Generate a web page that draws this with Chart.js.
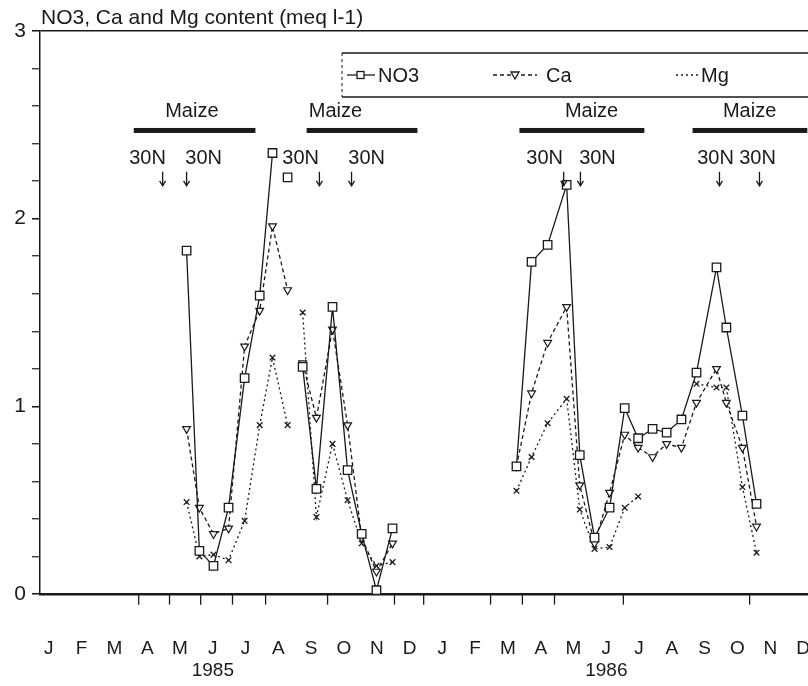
<!DOCTYPE html>
<html>
<head>
<meta charset="utf-8">
<script src="https://cdn.jsdelivr.net/npm/chart.js@4.4.0/dist/chart.umd.min.js"></script>
<style>
  html, body { margin: 0; padding: 0; background: #fff; }
  #wrap { width: 808px; height: 686px; }
</style>
</head>
<body>
<div id="wrap"><canvas id="chart" width="808" height="686"></canvas></div>
<script>
// month axis: 0 = Jan 1985 ... 23 = Dec 1986
const monthLabels = ['J','F','M','A','M','J','J','A','S','O','N','D','J','F','M','A','M','J','J','A','S','O','N','D'];
const yearTickIndex = [5, 17];
const years = ['1985', '1986'];

// sampling dates (fractional month index)
const sampleMonths = [4.20, 4.59, 5.02, 5.48, 5.97, 6.43, 6.82, 7.28, 7.74, 8.16, 8.65, 9.11, 9.54, 9.99, 10.48,
                      14.26, 14.72, 15.21, 15.79, 16.19, 16.64, 17.10, 17.56, 17.97, 18.41, 18.84, 19.29, 19.75, 20.36, 20.66, 21.15, 21.58];
const no3 = [1.83, 0.23, 0.15, 0.46, 1.15, 1.59, 2.35, 2.22, 1.21, 0.56, 1.53, 0.66, 0.32, 0.02, 0.35,
             0.68, 1.77, 1.86, 2.18, 0.74, 0.30, 0.46, 0.99, 0.83, 0.88, 0.86, 0.93, 1.18, 1.74, 1.42, 0.95, 0.48];
const ca  = [0.88, 0.46, 0.32, 0.35, 1.32, 1.51, 1.96, 1.62, 1.23, 0.94, 1.41, 0.90, 0.30, 0.12, 0.27,
             0.68, 1.07, 1.34, 1.53, 0.58, 0.27, 0.54, 0.85, 0.78, 0.73, 0.80, 0.78, 1.02, 1.20, 1.02, 0.78, 0.36];
const mg  = [0.49, 0.20, 0.21, 0.18, 0.39, 0.90, 1.26, 0.90, 1.50, 0.41, 0.80, 0.50, 0.27, 0.15, 0.17,
             0.55, 0.73, 0.91, 1.04, 0.45, 0.24, 0.25, 0.46, 0.52, null, null, null, 1.12, 1.10, 1.10, 0.57, 0.22];
// segments (from sample i to i+1) not drawn in the original
const no3Breaks = [6, 7];
const caBreaks = [7];
const mgBreaks = [7];

// crop and fertiliser annotations
const maizePeriods = [[2.59, 6.30], [7.86, 11.24], [14.35, 18.16], [19.63, 23.13]];
const maizeLabelMonths = [4.36, 8.74, 16.55, 21.37];
const fertMonths = [3.47, 4.20, 8.25, 9.23, 15.70, 16.21, 20.45, 21.67];
const fertLabelMonths = [3.01, 4.72, 7.68, 9.69, 15.12, 16.73, 20.33, 21.61];
const eventMonths = [2.74, 3.68, 4.63, 5.60, 6.61, 8.50, 10.54, 11.43, 13.47, 14.44, 15.42, 17.52, 21.37];

const INK = '#1a1a1a';
const FONT = '"Liberation Sans", Arial, sans-serif';

function points(values) {
    return sampleMonths.map((m, i) => ({ x: m, y: values[i] }));
}

function segColor(breaks) {
    return ctx => {
        const gap = sampleMonths[ctx.p1DataIndex] - sampleMonths[ctx.p0DataIndex];
        if (gap > 2 || breaks.includes(ctx.p0DataIndex)) return 'rgba(0,0,0,0)';
        return INK;
    };
}

// title, crop bars, fertiliser arrows and the boxed legend
const overlay = {
    id: 'overlay',
    afterDatasetsDraw(chart) {
        const { ctx, scales: { x, y } } = chart;
        ctx.save();
        ctx.fillStyle = INK;
        ctx.strokeStyle = INK;

        ctx.font = '21px ' + FONT;
        ctx.textAlign = 'left';
        ctx.textBaseline = 'alphabetic';
        ctx.fillText('NO3, Ca and Mg content (meq l-1)', 41, 24);

        ctx.font = '20px ' + FONT;
        ctx.textAlign = 'center';
        ctx.textBaseline = 'middle';
        const barY = y.getPixelForValue(2.47);
        maizePeriods.forEach(([a, b], i) => {
            const x0 = x.getPixelForValue(a);
            const x1 = Math.min(x.getPixelForValue(b), chart.width);
            ctx.fillRect(x0, barY - 2.5, x1 - x0, 5);
            ctx.fillText('Maize', x.getPixelForValue(maizeLabelMonths[i]), y.getPixelForValue(2.57));
        });

        const labY = y.getPixelForValue(2.32);
        fertLabelMonths.forEach(m => ctx.fillText('30N', x.getPixelForValue(m), labY));

        const a0 = y.getPixelForValue(2.25), a1 = y.getPixelForValue(2.175);
        ctx.lineWidth = 1.3;
        fertMonths.forEach(m => {
            const px = x.getPixelForValue(m);
            ctx.beginPath();
            ctx.moveTo(px, a0);
            ctx.lineTo(px, a1);
            ctx.stroke();
            ctx.beginPath();
            ctx.moveTo(px - 3, a1 - 5);
            ctx.lineTo(px, a1);
            ctx.lineTo(px + 3, a1 - 5);
            ctx.stroke();
        });

        // legend box
        const top = 53, bot = 97, left = 342, right = chart.width;
        ctx.lineWidth = 1.5;
        ctx.beginPath();
        ctx.moveTo(left, top); ctx.lineTo(right, top);
        ctx.moveTo(left, bot); ctx.lineTo(right, bot);
        ctx.stroke();
        ctx.setLineDash([3, 3]);
        ctx.lineWidth = 1;
        ctx.beginPath();
        ctx.moveTo(left, top); ctx.lineTo(left, bot);
        ctx.stroke();

        const ly = 75;
        ctx.lineWidth = 1.3;
        ctx.setLineDash([]);
        ctx.beginPath(); ctx.moveTo(347, ly); ctx.lineTo(375, ly); ctx.stroke();
        ctx.fillStyle = '#fff';
        ctx.fillRect(357, ly - 3.5, 7, 7);
        ctx.strokeRect(357, ly - 3.5, 7, 7);
        ctx.setLineDash([4, 3]);
        ctx.beginPath(); ctx.moveTo(493, ly); ctx.lineTo(537, ly); ctx.stroke();
        ctx.setLineDash([]);
        ctx.beginPath();
        ctx.moveTo(511, ly - 3); ctx.lineTo(519, ly - 3); ctx.lineTo(515, ly + 4); ctx.closePath();
        ctx.fill(); ctx.stroke();
        ctx.setLineDash([2, 3]);
        ctx.beginPath(); ctx.moveTo(676, ly); ctx.lineTo(698, ly); ctx.stroke();
        ctx.setLineDash([]);

        ctx.fillStyle = INK;
        ctx.textAlign = 'left';
        ctx.font = '20px ' + FONT;
        ctx.fillText('NO3', 378, ly + 1);
        ctx.fillText('Ca', 546, ly + 1);
        ctx.fillText('Mg', 701, ly + 1);
        ctx.restore();
    }
};

new Chart(document.getElementById('chart').getContext('2d'), {
    type: 'line',
    data: {
        datasets: [{
            label: 'NO3',
            data: points(no3),
            borderColor: INK,
            borderWidth: 1.3,
            pointStyle: 'rect',
            pointRadius: 6,
            pointBorderWidth: 1.3,
            pointBackgroundColor: '#fff',
            pointBorderColor: INK,
            segment: { borderColor: segColor(no3Breaks) }
        }, {
            label: 'Ca',
            data: points(ca),
            borderColor: INK,
            borderWidth: 1.3,
            borderDash: [4, 3],
            pointStyle: 'triangle',
            pointRotation: 180,
            pointRadius: 4.5,
            pointBorderWidth: 1.2,
            pointBackgroundColor: '#fff',
            pointBorderColor: INK,
            segment: { borderColor: segColor(caBreaks) }
        }, {
            label: 'Mg',
            data: points(mg),
            borderColor: INK,
            borderWidth: 1.3,
            borderDash: [2, 3],
            pointStyle: 'crossRot',
            pointRadius: 4,
            pointBorderWidth: 1.3,
            pointBorderColor: INK,
            segment: { borderColor: segColor(mgBreaks) }
        }, {
            type: 'scatter',
            label: 'events',
            data: eventMonths.map(m => ({ x: m, y: -0.03 })),
            pointStyle: 'line',
            pointRotation: 90,
            pointRadius: 5,
            pointBorderWidth: 1.3,
            borderColor: INK,
            clip: false
        }]
    },
    options: {
        responsive: false,
        animation: false,
        spanGaps: false,
        layout: { autoPadding: false, padding: { top: 31, left: 0, right: 0, bottom: 0 } },
        plugins: { legend: { display: false }, tooltip: { enabled: false } },
        scales: {
            x: {
                type: 'linear',
                min: -0.27,
                max: 23.15,
                afterBuildTicks: axis => { axis.ticks = monthLabels.map((_, i) => ({ value: i })); },
                afterFit: axis => { axis.height = 92; axis.paddingLeft = 0; axis.paddingRight = 0; },
                grid: { display: false },
                border: { display: true, color: INK, width: 2.5 },
                ticks: {
                    autoSkip: false,
                    maxRotation: 0,
                    padding: 35,
                    color: INK,
                    font: { family: FONT, size: 19 },
                    callback: v => {
                        const k = yearTickIndex.indexOf(v);
                        return k >= 0 ? [monthLabels[v], years[k]] : monthLabels[v];
                    }
                }
            },
            y: {
                min: 0,
                max: 3,
                afterFit: axis => { axis.width = 40; },
                grid: {
                    drawOnChartArea: true,
                    color: ctx => (ctx.tick && Math.abs(ctx.tick.value - 3) < 1e-6) ? INK : 'rgba(0,0,0,0)',
                    lineWidth: 1.5,
                    tickColor: INK,
                    tickLength: 8,
                    tickWidth: ctx => (ctx.tick && Math.abs(ctx.tick.value - Math.round(ctx.tick.value)) < 1e-6) ? 1.6 : 1.2
                },
                border: { display: true, color: INK, width: 1.5 },
                ticks: {
                    stepSize: 0.2,
                    padding: 6,
                    color: INK,
                    font: { family: FONT, size: 21 },
                    callback: v => Math.abs(v - Math.round(v)) < 1e-6 ? String(Math.round(v)) : ''
                }
            }
        }
    },
    plugins: [overlay]
});
</script>
</body>
</html>
